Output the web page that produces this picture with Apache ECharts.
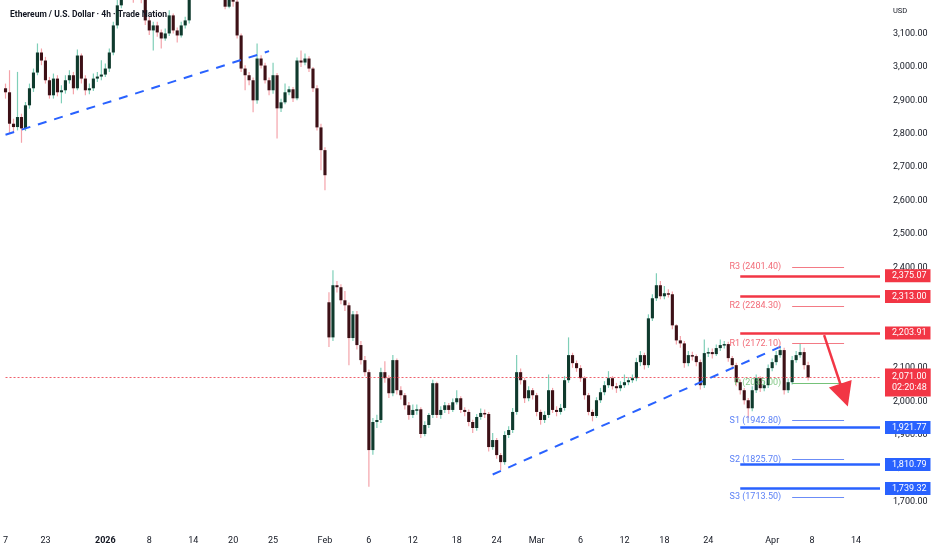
<!DOCTYPE html>
<html><head><meta charset="utf-8">
<script src="https://cdn.jsdelivr.net/npm/echarts@6/dist/echarts.min.js"></script>
<style>html,body{margin:0;padding:0;background:#fff}#c{width:932px;height:550px}</style>
</head><body><div id="c"></div>
<script>
// ---------- data ----------
const slotCount = 220;
const tickLabels = [[0,'7'],[10,'23'],[25,'2026'],[36,'8'],[47,'14'],[57,'20'],[67,'25'],[80,'Feb'],[91,'6'],[102,'12'],[113,'18'],[123,'24'],[133,'Mar'],[144,'6'],[155,'12'],[165,'18'],[176,'24'],[192,'Apr'],[202,'8'],[213,'14']];
// [open, close, low, high]
const candles = [
[2936,2924,2905,2950],[2924,2830,2800,2990],[2830,2820,2802,2845],[2820,2850,2810,2985],[2850,2816,2773,2860],
[2816,2885,2808,2895],[2885,2936,2875,2950],[2936,2983,2925,2995],[2983,3043,2975,3070],[3043,3019,3005,3055],
[3019,2960,2950,3030],[2960,2915,2905,2970],[2915,2965,2905,2980],[2965,2924,2912,2975],[2924,2930,2891,2945],
[2930,2960,2920,2975],[2960,2975,2950,2990],[2975,2936,2918,2985],[2936,3034,2930,3052],[3034,2965,2950,3040],
[2965,2930,2915,2975],[2930,2936,2918,2950],[2936,2965,2928,2980],[2965,2971,2955,2985],[2971,2977,2960,3020],
[2977,2995,2970,3010],[2995,3043,2985,3055],[3043,3124,3035,3135],[3124,3184,3115,3215],[3184,3230,3175,3250],
[3230,3260,3220,3280],[3260,3240,3225,3275],[3240,3210,3192,3250],[3210,3235,3200,3255],[3235,3215,3190,3245],
[3215,3139,3125,3225],[3139,3109,3095,3150],[3109,3124,3049,3135],[3124,3103,3090,3135],[3103,3085,3055,3112],
[3085,3100,3078,3115],[3100,3154,3092,3169],[3154,3109,3100,3160],[3109,3094,3073,3118],[3094,3124,3088,3135],
[3124,3139,3115,3150],[3139,3215,3130,3230],[3215,3260,3205,3275],[3260,3290,3250,3310],[3290,3330,3280,3345],
[3330,3310,3295,3340],[3310,3350,3300,3370],[3350,3320,3305,3360],[3320,3300,3285,3330],[3300,3260,3240,3310],
[3260,3180,3172,3270],[3180,3220,3175,3235],[3220,3195,3180,3230],[3195,3094,3085,3205],[3094,2995,2985,3100],
[2995,2975,2930,3005],[2975,2960,2945,2985],[2960,2900,2864,2968],[2900,3025,2890,3070],[3025,3004,2995,3035],
[3004,2960,2950,3012],[2960,2930,2915,2968],[2930,2975,2920,3012],[2975,2876,2786,2982],[2876,2894,2865,2905],
[2894,2924,2888,2950],[2924,2933,2915,2942],[2933,2906,2895,2940],[2906,3019,2900,3028],[3019,3013,3000,3049],
[3013,3025,3005,3040],[3025,2995,2985,3032],[2995,2936,2925,3000],[2936,2819,2810,2945],[2819,2751,2691,2830],
[2751,2676,2631,2760],[2296,2191,2162,2326],[2191,2347,2180,2392],[2347,2341,2325,2360],[2341,2302,2290,2350],
[2302,2287,2270,2330],[2287,2189,2108,2295],[2189,2260,2180,2270],[2260,2168,2155,2270],[2168,2123,2110,2180],
[2123,2087,2075,2135],[2087,1854,1744,2095],[1854,1938,1840,1950],[1938,1944,1920,1960],[1944,2087,1935,2100],
[2087,2069,2055,2120],[2069,2024,2010,2078],[2024,2123,2015,2138],[2123,2033,2020,2128],[2033,2018,2005,2045],
[2018,1988,1975,2025],[1988,1959,1945,1998],[1959,1974,1950,1990],[1974,1976,1960,1990],[1976,1902,1890,1982],
[1902,1929,1895,1940],[1929,1959,1920,1965],[1959,2054,1950,2064],[2054,1959,1950,2058],[1959,1974,1948,1985],
[1974,1988,1965,1998],[1988,1974,1962,1995],[1974,1997,1968,2008],[1997,2009,1990,2033],[2009,1974,1965,2015],
[1974,1968,1955,1982],[1968,1938,1925,1975],[1938,1920,1905,1945],[1920,1953,1912,1962],[1953,1965,1945,1978],
[1965,1962,1950,1975],[1962,1863,1850,1968],[1863,1884,1855,1905],[1884,1839,1828,1890],[1839,1818,1794,1845],
[1818,1899,1810,1910],[1899,1914,1890,1925],[1914,1968,1905,1980],[1968,2087,1960,2138],[2087,2063,2050,2098],
[2063,2009,1995,2070],[2009,2033,2000,2045],[2033,2018,2005,2040],[2018,1968,1955,2025],[1968,1944,1930,1975],
[1944,1959,1935,1970],[1959,2033,1950,2080],[2033,1974,1965,2040],[1974,1968,1955,1985],[1968,1980,1960,1992],
[1980,2063,1972,2075],[2063,2138,2055,2191],[2138,2114,2100,2145],[2114,2099,2088,2122],[2099,2069,2058,2108],
[2069,2018,2005,2075],[2018,1968,1958,2025],[1968,1956,1940,1975],[1956,2003,1950,2012],[2003,2027,1995,2040],
[2027,2048,2018,2060],[2048,2069,2040,2090],[2069,2045,2035,2075],[2045,2039,2025,2055],[2039,2048,2030,2060],
[2048,2057,2040,2080],[2057,2063,2048,2072],[2063,2069,2055,2080],[2069,2117,2060,2130],[2117,2138,2105,2150],
[2138,2108,2095,2145],[2108,2248,2100,2260],[2248,2308,2240,2320],[2308,2347,2300,2383],[2347,2314,2305,2360],
[2314,2323,2305,2345],[2323,2320,2310,2335],[2320,2227,2215,2328],[2227,2182,2170,2230],[2182,2173,2160,2195],
[2173,2114,2100,2180],[2114,2138,2105,2150],[2138,2135,2122,2148],[2135,2117,2105,2140],[2117,2048,2035,2125],
[2048,2144,2040,2185],[2144,2147,2132,2160],[2147,2141,2128,2158],[2141,2159,2135,2170],[2159,2168,2150,2185],
[2168,2171,2158,2180],[2171,2129,2118,2178],[2129,2108,2095,2135],[2108,2057,2045,2115],[2057,2033,2020,2065],
[2033,2003,1990,2040],[2003,1979,1950,2010],[1979,2033,1970,2045],[2033,2069,2025,2080],[2069,2039,2028,2075],
[2039,2048,2030,2060],[2048,2099,2040,2110],[2099,2117,2090,2128],[2117,2138,2108,2150],[2138,2153,2130,2165],
[2153,2033,2020,2160],[2033,2057,2025,2068],[2057,2123,2050,2135],[2123,2138,2115,2150],[2138,2147,2130,2172],
[2147,2108,2095,2160],[2108,2071,2062,2118]
];
const priceMin = 1600, priceMax = 3200, priceStep = 100;
const hiddenPriceTicks = [1600, 2300, 3200];
const levelsRed = [2375.07, 2313.00, 2203.91];
const levelsBlue = [1921.77, 1810.79, 1739.32];
const levelSlots = [184, 219];
const pivots = [['R3',2401.40],['R2',2284.30],['R1',2172.10],['P',2055.00],['S1',1942.80],['S2',1825.70],['S3',1713.50]];
const pivotSlots = [197, 210];
const lastPrice = 2071.00;
const countdown = '02:20:48';
const trendLines = [[[0,2797],[66,3047]],[[122,1781],[195,2168]]];
const arrowPts = [[205,2198],[210,2018]];

// ---------- build ----------
const FONT = 'Roboto';
const INK = '#131722';
const RED = '#f23645', BLUE = '#2962ff';
const fmt = v => v.toLocaleString('en-US', {minimumFractionDigits: 2, maximumFractionDigits: 2});
const categories = new Array(slotCount).fill('');
tickLabels.forEach(([i, t]) => { categories[i] = t; });
const candleData = candles.map((d, i) => [i, d[0], d[1], d[2], d[3]]);

function renderCandle(params, api) {
  const idx = api.value(0), o = api.value(1), c = api.value(2), l = api.value(3), h = api.value(4);
  const pO = api.coord([idx, o]), pC = api.coord([idx, c]), pL = api.coord([idx, l]), pH = api.coord([idx, h]);
  const w = Math.max(1.5, api.size([1, 0])[0] * 0.78);
  const up = c >= o;
  const x = pO[0];
  const top = Math.min(pO[1], pC[1]);
  const ht = Math.max(1.5, Math.abs(pO[1] - pC[1]));
  return { type: 'group', children: [
    { type: 'line', shape: { x1: x, y1: pH[1], x2: x, y2: pL[1] },
      style: { stroke: up ? '#7fcfb8' : '#f4a3aa', lineWidth: 1.2 } },
    { type: 'rect', shape: { x: x - w / 2, y: top, width: w, height: ht },
      style: { fill: up ? '#0f3a2d' : '#3d1016' } }
  ]};
}

function badge(text, color) {
  return { show: true, position: 'end', distance: 5, formatter: text, color: '#fff',
    backgroundColor: color, padding: [2, 4, 1, 7], fontSize: 9, lineHeight: 10, fontFamily: FONT };
}

const levelLines = [];
levelsRed.forEach(v => levelLines.push([
  { coord: [levelSlots[0], v], lineStyle: { color: RED, width: 2.5, type: 'solid' }, label: badge(fmt(v), RED) },
  { coord: [levelSlots[1], v] }
]));
levelsBlue.forEach(v => levelLines.push([
  { coord: [levelSlots[0], v], lineStyle: { color: BLUE, width: 2.5, type: 'solid' }, label: badge(fmt(v), BLUE) },
  { coord: [levelSlots[1], v] }
]));
trendLines.forEach(t => levelLines.push([
  { coord: t[0], lineStyle: { color: BLUE, width: 2, type: [9, 8] }, label: { show: false } },
  { coord: t[1] }
]));
levelLines.push([
  { coord: arrowPts[0], symbol: 'none', lineStyle: { color: RED, width: 2.5, type: 'solid' }, label: { show: false } },
  { coord: arrowPts[1], symbol: 'triangle', symbolSize: [24, 24] }
]);

const lastPriceLine = [[
  { coord: [0, lastPrice], lineStyle: { color: '#f0606c', width: 1, type: [2, 2], opacity: 1 },
    label: Object.assign(badge(fmt(lastPrice) + '\n' + countdown, RED), { padding: [3, 4, 3, 7], offset: [0, 5], lineHeight: 11 }) },
  { coord: [slotCount - 1, lastPrice] }
]];

const pivotLines = pivots.map(([name, v]) => {
  const col = name[0] === 'R' ? '#f26b78' : (name[0] === 'S' ? '#5b80f6' : '#66bb6a');
  return [
    { coord: [pivotSlots[0], v], lineStyle: { color: col, width: 1, type: 'solid', opacity: 0.9 },
      label: { show: true, position: 'start', distance: 11, formatter: name + ' (' + v.toFixed(2) + ')',
        color: col, fontSize: 9, fontFamily: FONT, opacity: name === 'P' ? 0.8 : 1 } },
    { coord: [pivotSlots[1], v] }
  ];
});

const chart = echarts.init(document.getElementById('c'), null, { renderer: 'canvas' });
chart.setOption({
  animation: false,
  backgroundColor: '#ffffff',
  title: { text: 'Ethereum / U.S. Dollar · 4h · Trade Nation', left: 5, top: 5,
    textStyle: { fontSize: 8.5, fontWeight: 'bold', color: INK, fontFamily: FONT } },
  graphic: [{ type: 'text', left: 893, top: 7, style: { text: 'USD', fontSize: 7.5, fill: INK, fontFamily: FONT } }],
  grid: { left: 0, right: 50, top: 0, bottom: 15, containLabel: false },
  xAxis: {
    type: 'category', data: categories, boundaryGap: true,
    axisLine: { show: false }, axisTick: { show: false }, splitLine: { show: false },
    axisLabel: {
      interval: (i, v) => v !== '', margin: 1, fontSize: 9, color: INK, fontFamily: FONT,
      formatter: v => (v === '2026' ? '{b|2026}' : v),
      rich: { b: { fontWeight: 'bold', fontSize: 9, color: INK, fontFamily: FONT } }
    }
  },
  yAxis: {
    type: 'value', position: 'right', min: priceMin, max: priceMax, interval: priceStep,
    axisLine: { show: false }, axisTick: { show: false }, splitLine: { show: false },
    axisLabel: { margin: 11, fontSize: 9, color: INK, fontFamily: FONT,
      formatter: v => (hiddenPriceTicks.includes(v) ? '' : fmt(v)) }
  },
  series: [
    { type: 'line', name: 'pivots', data: [], z: 1, silent: true,
      markLine: { silent: true, symbol: ['none', 'none'], animation: false, data: pivotLines } },
    { type: 'line', name: 'lastprice', data: [], z: 2, silent: true,
      markLine: { silent: true, symbol: ['none', 'none'], animation: false, data: lastPriceLine } },
    { type: 'custom', name: 'ETHUSD', renderItem: renderCandle, data: candleData, z: 3, clip: true,
      encode: { x: 0, y: [1, 2, 3, 4] } },
    { type: 'line', name: 'levels', data: [], z: 4, silent: true,
      markLine: { silent: true, symbol: ['none', 'none'], animation: false, data: levelLines } }
  ]
});
</script></body></html>
